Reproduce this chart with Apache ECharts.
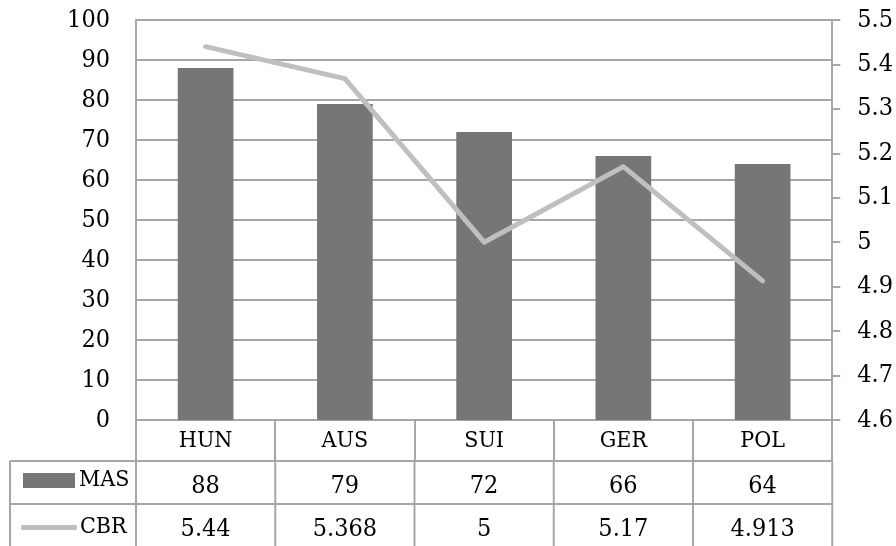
<!DOCTYPE html>
<html>
<head>
<meta charset="utf-8">
<style>
  html, body { margin: 0; padding: 0; background: #ffffff; }
  #chart { width: 896px; height: 546px; }
</style>
<script src="https://cdn.jsdelivr.net/npm/echarts@6/dist/echarts.min.js"></script>
</head>
<body>
<div id="chart"></div>
<script>
// Countries and their two measures
const categories = ['HUN', 'AUS', 'SUI', 'GER', 'POL'];
const masValues = [88, 79, 72, 66, 64];
const cbrValues = [5.44, 5.368, 5, 5.17, 4.913];

// Axis ranges
const leftAxisRange = [0, 100, 10];
const rightAxisRange = [4.6, 5.5, 0.1];

const FONT = '"DejaVu Serif Condensed", "DejaVu Serif", serif';
const NUM_SIZE = 25;
const WORD_SIZE = 23;
const GRID_COLOR = '#a6a6a6';
const BAR_COLOR = '#767676';
const LINE_COLOR = '#bfbfbf';

const chart = echarts.init(document.getElementById('chart'), null, { renderer: 'canvas' });

const numStyle = { fontFamily: FONT, fontSize: NUM_SIZE, color: '#000000' };
const wordStyle = { fontFamily: FONT, fontSize: WORD_SIZE, color: '#000000' };

chart.setOption({
  animation: false,
  backgroundColor: '#ffffff',
  grid: { left: 136, right: 63, top: 20, bottom: 126, containLabel: false },
  legend: [
    {
      data: [{ name: 'MAS', icon: 'rect' }],
      left: 18, top: 464,
      itemWidth: 52, itemHeight: 15, itemGap: 0,
      selectedMode: false,
      itemStyle: { color: BAR_COLOR },
      textStyle: Object.assign({}, wordStyle, { padding: [0, 0, 0, -1] })
    },
    {
      data: [{ name: 'CBR', icon: 'roundRect' }],
      left: 16, top: 511,
      itemWidth: 56, itemHeight: 5, itemGap: 0,
      selectedMode: false,
      itemStyle: { color: LINE_COLOR },
      textStyle: Object.assign({}, wordStyle, { padding: [0, 0, 0, -2] })
    }
  ],
  xAxis: {
    type: 'category',
    data: categories,
    boundaryGap: true,
    axisLine: { show: true, lineStyle: { color: GRID_COLOR, width: 2 } },
    axisTick: { show: true, interval: 0, inside: false, length: 41, lineStyle: { color: GRID_COLOR, width: 2 } },
    axisLabel: Object.assign({ margin: 10, interval: 0 }, wordStyle),
    splitLine: { show: false }
  },
  yAxis: [
    {
      type: 'value',
      min: leftAxisRange[0], max: leftAxisRange[1], interval: leftAxisRange[2],
      axisLine: { show: true, lineStyle: { color: GRID_COLOR, width: 2 } },
      axisTick: { show: false },
      axisLabel: Object.assign({ margin: 26 }, numStyle),
      splitLine: { show: true, lineStyle: { color: GRID_COLOR, width: 2 } }
    },
    {
      type: 'value',
      position: 'right',
      min: rightAxisRange[0], max: rightAxisRange[1], interval: rightAxisRange[2],
      axisLine: { show: true, lineStyle: { color: GRID_COLOR, width: 2 } },
      axisTick: { show: true, inside: false, length: 8, lineStyle: { color: GRID_COLOR, width: 2 } },
      axisLabel: Object.assign({
        margin: 25,
        formatter: function (v) { return String(+v.toFixed(1)); }
      }, numStyle),
      splitLine: { show: false }
    }
  ],
  series: [
    {
      name: 'MAS',
      type: 'bar',
      yAxisIndex: 0,
      data: masValues,
      barWidth: '40%',
      itemStyle: { color: BAR_COLOR }
    },
    {
      name: 'CBR',
      type: 'line',
      yAxisIndex: 1,
      data: cbrValues,
      symbol: 'none',
      showSymbol: false,
      lineStyle: { color: LINE_COLOR, width: 5, cap: 'round', join: 'round' },
      itemStyle: { color: LINE_COLOR }
    }
  ]
});

// Data table under the category axis: a value row for each series
function buildTable() {
  const x0 = chart.convertToPixel({ xAxisIndex: 0 }, categories[0]);
  const x1 = chart.convertToPixel({ xAxisIndex: 0 }, categories[1]);
  const band = x1 - x0;
  const axisY = chart.convertToPixel({ yAxisIndex: 0 }, leftAxisRange[0]);
  const tableLeft = 10;
  const firstCol = x0 - band / 2;
  const lastCol = firstCol + band * categories.length;
  const rowTops = [axisY + 41, axisY + 84];
  const rowBottom = 546;
  const rows = [masValues, cbrValues];
  const els = [];
  const line = (xa, ya, xb, yb) => ({
    type: 'line', silent: true,
    shape: { x1: xa, y1: ya, x2: xb, y2: yb },
    style: { stroke: GRID_COLOR, lineWidth: 2 }
  });
  rowTops.forEach(y => els.push(line(tableLeft, y, lastCol, y)));
  els.push(line(tableLeft, rowTops[0], tableLeft, rowBottom));
  for (let i = 0; i <= categories.length; i++) {
    const x = firstCol + band * i;
    els.push(line(x, rowTops[0], x, rowBottom));
  }
  const rowCenters = [rowTops[0] + 25, rowTops[1] + 25];
  rows.forEach((vals, r) => {
    vals.forEach((v, i) => {
      const cx = chart.convertToPixel({ xAxisIndex: 0 }, categories[i]);
      els.push({
        type: 'text', silent: true,
        x: cx, y: rowCenters[r],
        style: {
          text: String(v), fill: '#000000',
          font: NUM_SIZE + 'px ' + FONT,
          align: 'center', verticalAlign: 'middle'
        }
      });
    });
  });
  chart.setOption({ graphic: { elements: els } });
}
buildTable();
</script>
</body>
</html>
